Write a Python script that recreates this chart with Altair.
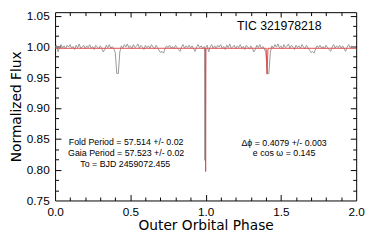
import altair as alt
import pandas as pd

# ---- data ----
phase_half = [round(0.01 * i, 2) for i in range(100)]
flux_half = [
    0.998, 1.002, 0.991, 0.999, 1.003, 0.997, 1.001, 0.996, 1.002, 0.999,
    1.003, 0.997, 1.000, 0.995, 1.002, 0.998, 1.004, 0.997, 0.999, 1.002,
    0.996, 1.001, 0.998, 1.003, 0.997, 1.000, 0.995, 1.002, 0.999, 0.996,
    1.001, 0.997, 0.991, 0.995, 1.002, 0.998, 1.003, 0.997, 1.000, 0.996,
    0.990, 0.956, 0.956, 0.991, 1.001, 0.997, 1.003, 0.999, 1.004, 0.998,
    1.001, 0.996, 1.003, 0.998, 1.000, 1.004, 0.997, 1.002, 0.999, 0.995,
    1.002, 0.998, 1.001, 0.997, 1.003, 0.999, 0.996, 1.002, 0.998, 0.994,
    0.990, 0.992, 0.989, 0.996, 1.001, 0.998, 1.002, 0.997, 1.000, 0.996,
    1.002, 0.998, 0.995, 0.992, 0.999, 1.003, 0.997, 1.001, 0.998, 1.002,
    0.997, 1.001, 0.996, 0.992, 0.999, 1.003, 0.998, 1.001, 0.997, 1.000,
]
dip_phase = [0.9935, 0.995, 0.9965]
dip_flux = [0.99, 0.815, 0.99]

model_phase = [0.0, 0.998, 1.0, 1.002, 1.402, 1.408, 1.414, 2.0]
model_flux = [0.997, 0.997, 0.797, 0.997, 0.997, 0.955, 0.997, 0.997]

x_labels = [0.0, 0.5, 1.0, 1.5, 2.0]
x_major = [0.5, 1.0, 1.5]
x_minor = [0.1, 0.2, 0.3, 0.4, 0.6, 0.7, 0.8, 0.9,
           1.1, 1.2, 1.3, 1.4, 1.6, 1.7, 1.8, 1.9]
y_labels = [0.75, 0.80, 0.85, 0.90, 0.95, 1.00, 1.05]
y_major = [0.80, 0.85, 0.90, 0.95, 1.00, 1.05]
y_minor = [0.7667, 0.7833, 0.8167, 0.8333, 0.8667, 0.8833, 0.9167, 0.9333,
           0.9667, 0.9833, 1.0167, 1.0333]

title_text = ["TIC 321978218"]
title_phase = [1.489]
title_flux = [1.0333]

note_text = ["Fold Period = 57.514 +/- 0.02", "Gaia Period = 57.523 +/- 0.02",
             "To = BJD 2459072.455", "\u0394\u03d5 = 0.4079 +/- 0.003",
             "e cos \u03c9 = 0.145"]
note_phase = [0.472, 0.472, 0.466, 1.521, 1.521]
note_flux = [0.8449, 0.8277, 0.8090, 0.8433, 0.8262]

# ---- tables ----
gray_a = pd.DataFrame({"phase": phase_half, "flux": flux_half})
gray_b = pd.DataFrame({
    "phase": [phase_half[-1]] + dip_phase + [p + 1 for p in phase_half],
    "flux": [flux_half[-1]] + dip_flux + flux_half,
})
model = pd.DataFrame({"phase": model_phase, "flux": model_flux})
titles = pd.DataFrame({"phase": title_phase, "flux": title_flux, "t": title_text})
notes = pd.DataFrame({"phase": note_phase, "flux": note_flux, "t": note_text})

xs = alt.Scale(domain=[0, 2], nice=False, zero=False)
ys = alt.Scale(domain=[0.75, 1.0556], nice=False, zero=False)

TICK_FONT = "Liberation Sans"
TITLE_FONT = "DejaVu Sans"


def tick_axis(orient, values, size):
    return alt.Axis(orient=orient, values=values, labels=False, domain=False,
                    ticks=True, tickSize=size, offset=-size, title="",
                    grid=False, tickColor="black")


label_x = alt.Axis(orient="bottom", values=x_labels, format=".1f", ticks=False,
                   domain=False, grid=False, labelFlush=False, labelPadding=6,
                   labelFont=TICK_FONT, labelFontSize=12, labelColor="black",
                   title="Outer Orbital Phase", titleFont=TITLE_FONT,
                   titleFontSize=14, titleFontWeight="normal", titleColor="black",
                   titlePadding=2)
label_y = alt.Axis(orient="left", values=y_labels, format=".2f", ticks=False,
                   domain=False, grid=False, labelFlush=False, labelPadding=6,
                   labelFont=TICK_FONT, labelFontSize=12, labelColor="black",
                   title="Normalized Flux", titleFont=TITLE_FONT,
                   titleFontSize=14, titleFontWeight="normal", titleColor="black",
                   titlePadding=3)

gray1 = alt.Chart(gray_a).mark_line(color="#999999", strokeWidth=1, clip=True).encode(
    x=alt.X("phase:Q", scale=xs, axis=label_x),
    y=alt.Y("flux:Q", scale=ys, axis=label_y),
)
gray2 = alt.Chart(gray_b).mark_line(color="#999999", strokeWidth=1, clip=True).encode(
    x=alt.X("phase:Q", scale=xs, axis=tick_axis("bottom", x_major, 6)),
    y=alt.Y("flux:Q", scale=ys, axis=tick_axis("left", y_major, 6)),
)
red = alt.Chart(model).mark_line(color="#dd4b4b", strokeWidth=1, clip=True).encode(
    x=alt.X("phase:Q", scale=xs, axis=tick_axis("bottom", x_minor, 3.5)),
    y=alt.Y("flux:Q", scale=ys, axis=tick_axis("left", y_minor, 3.5)),
)
tic = alt.Chart(titles).mark_text(font=TICK_FONT, fontSize=12.5, color="black",
                                  align="center", baseline="middle").encode(
    x=alt.X("phase:Q", scale=xs, axis=tick_axis("top", x_major, 5)),
    y=alt.Y("flux:Q", scale=ys, axis=tick_axis("right", y_major, 6)),
    text="t:N",
)
note = alt.Chart(notes).mark_text(font=TICK_FONT, fontSize=9, color="black",
                                  align="center", baseline="middle").encode(
    x=alt.X("phase:Q", scale=xs, axis=tick_axis("top", x_minor, 3.5)),
    y=alt.Y("flux:Q", scale=ys, axis=tick_axis("right", y_minor, 3.5)),
    text="t:N",
)

chart = alt.layer(gray1, gray2, red, tic, note).resolve_axis(
    x="independent", y="independent"
).properties(
    width=307, height=192,
    autosize=alt.AutoSizeParams(type="none"),
    padding={"left": 48, "top": 2, "right": 10, "bottom": 36},
    background="white",
).configure_view(stroke="black", strokeWidth=1)

chart.save("out.html", embed_options={"renderer": "svg", "actions": False})
